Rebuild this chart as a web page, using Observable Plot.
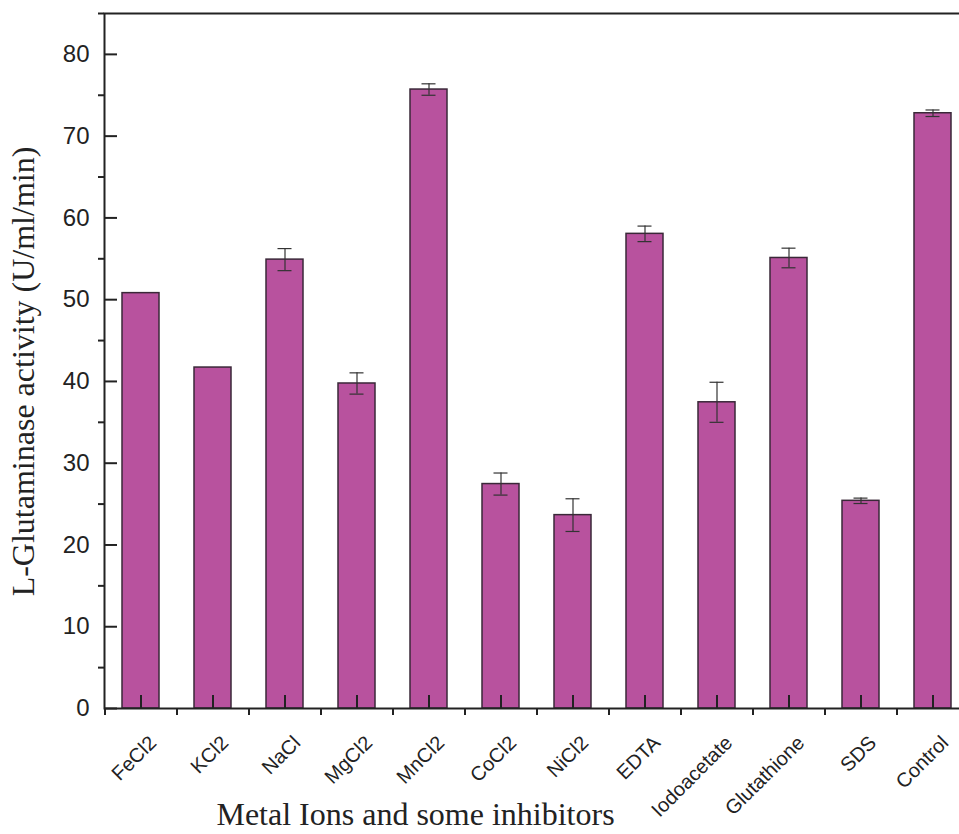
<!DOCTYPE html>
<html>
<head>
<meta charset="utf-8">
<script src="https://cdn.jsdelivr.net/npm/d3@7"></script>
<script src="https://cdn.jsdelivr.net/npm/@observablehq/plot@0.6"></script>
<style>
  html, body { margin: 0; padding: 0; background: #fff; overflow: hidden; }
  #chart svg { display: block; }
</style>
</head>
<body>
<div id="chart"></div>
<script>
// Treatments (metal ions and inhibitors)
const categories = ["FeCl2", "KCl2", "NaCl", "MgCl2", "MnCl2", "CoCl2", "NiCl2", "EDTA", "Iodoacetate", "Glutathione", "SDS", "Control"];
// Mean L-glutaminase activity (U/ml/min)
const activity = [50.8, 41.7, 54.9, 39.75, 75.7, 27.45, 23.65, 58.05, 37.45, 55.1, 25.4, 72.8];
// Standard deviation (0 = no error bar drawn)
const sd = [0, 0, 1.35, 1.3, 0.7, 1.35, 2.0, 0.95, 2.45, 1.2, 0.33, 0.4];
// Y-axis ticks
const majorTicks = [0, 10, 20, 30, 40, 50, 60, 70, 80];
const minorTicks = [5, 15, 25, 35, 45, 55, 65, 75, 85];

const rows = categories.map((name, i) => ({name, value: activity[i], sd: sd[i]}));
const errRows = rows.filter(d => d.sd > 0).map(d => ({...d, lo: d.value - d.sd, hi: d.value + d.sd}));

const W = 959, H = 834;
const mLeft = 104, mRight = -9, mTop = 13, mBottom = 126;
const step = (W - mLeft - mRight) / categories.length;

const sans = "'Liberation Sans', Arial, Helvetica, sans-serif";
const serif = "'Liberation Serif', 'Times New Roman', Times, serif";
const ink = "#222";
const blank = () => "";

const chart = Plot.plot({
  width: W,
  height: H,
  marginLeft: mLeft,
  marginRight: mRight,
  marginTop: mTop,
  marginBottom: mBottom,
  style: {fontFamily: sans, color: ink, background: "#fff", overflow: "hidden"},
  x: {type: "band", domain: categories, paddingInner: 0.49, paddingOuter: 0.245, label: null},
  y: {domain: [0, 85], label: null},
  marks: [
    Plot.barY(rows, {x: "name", y: "value", fill: "#B8529E", stroke: "#3a2838", strokeWidth: 1.5}),
    // error bars
    Plot.ruleX(errRows, {x: "name", y1: "lo", y2: "hi", stroke: "#333", strokeWidth: 1.2}),
    Plot.tickY(errRows, {x: "name", y: "hi", stroke: "#333", strokeWidth: 1.2, inset: 11.5}),
    Plot.tickY(errRows, {x: "name", y: "lo", stroke: "#333", strokeWidth: 1.2, inset: 11.5}),
    // axis box
    Plot.frame({stroke: ink, strokeWidth: 2}),
    // y axis: inward major ticks, outward minor ticks, labels
    Plot.axisY({ticks: majorTicks, tickSize: 13, dx: 13, tickFormat: blank, stroke: ink, strokeWidth: 2}),
    Plot.axisY({ticks: minorTicks, tickSize: 6, tickFormat: blank, stroke: ink, strokeWidth: 2}),
    Plot.axisY({ticks: majorTicks, tickSize: 0, tickPadding: 15, fontSize: 24, fill: ink}),
    // x axis: outward ticks on category boundaries, inward ticks at bar centres, rotated labels
    Plot.axisX({tickSize: 7, dx: -step / 2, tickFormat: blank, stroke: ink, strokeWidth: 2}),
    Plot.axisX({tickSize: 13, dy: -13, tickFormat: blank, stroke: ink, strokeWidth: 2}),
    Plot.axisX({tickSize: 0, tickPadding: 31, dx: 12, tickRotate: -45, fontSize: 20, fill: ink}),
    // axis titles
    Plot.text(["L-Glutaminase activity (U/ml/min)"], {
      frameAnchor: "left", rotate: -90, dx: -81, dy: 10.5,
      textAnchor: "middle", lineAnchor: "middle",
      fontFamily: serif, fontSize: 32, fill: ink
    }),
    Plot.text(["Metal Ions and some inhibitors"], {
      frameAnchor: "bottom", dx: 415 - (mLeft + (W - mRight)) / 2, dy: 106,
      textAnchor: "middle", lineAnchor: "middle",
      fontFamily: serif, fontSize: 32, fill: ink
    })
  ]
});

document.getElementById("chart").append(chart);
</script>
</body>
</html>
